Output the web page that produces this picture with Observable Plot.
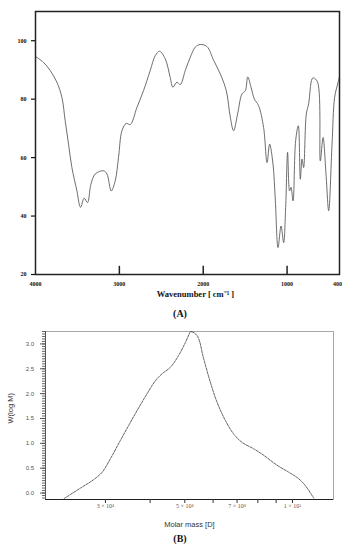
<!DOCTYPE html>
<html>
<head>
<meta charset="utf-8">
<script src="https://cdn.jsdelivr.net/npm/d3@7"></script>
<script src="https://cdn.jsdelivr.net/npm/@observablehq/plot@0.6"></script>
<style>
  html, body { margin: 0; padding: 0; background: #fff; }
  #page { position: relative; width: 350px; height: 550px; overflow: hidden; }
  .blk { position: absolute; left: 0; }
  .tag { position: absolute; font-family: "Liberation Serif", serif; font-weight: bold; font-size: 10px; color: #111; transform: translateX(-50%); }
</style>
</head>
<body>
<div id="page">
  <div id="chartA" class="blk" style="top:0px"></div>
  <div class="tag" style="left:180px; top:308px">(A)</div>
  <div id="chartB" class="blk" style="top:322px"></div>
  <div class="tag" style="left:180px; top:533px">(B)</div>
</div>
<script>
// ---- Chart A: FTIR spectrum ----
const wavenumber = [4000, 3905, 3825, 3745, 3685, 3646, 3606, 3566, 3506, 3463, 3419, 3380, 3339, 3288, 3189, 3148, 3097, 3049, 3010, 2969, 2918, 2870, 2790, 2712, 2632, 2572, 2521, 2453, 2394, 2362, 2313, 2274, 2214, 2155, 2095, 2036, 1955, 1876, 1796, 1725, 1677, 1638, 1590, 1538, 1498, 1469, 1430, 1391, 1340, 1280, 1239, 1208, 1168, 1140, 1108, 1072, 1041, 1017, 994, 970, 953, 929, 898, 866, 842, 822, 803, 771, 743, 703, 684, 636, 604, 571, 536, 504, 464, 433, 397, 377];
const transmittance = [94.6, 92.6, 89.8, 85.8, 80.6, 72.6, 64.6, 56.6, 48.6, 43.0, 46.1, 44.6, 50.9, 54.4, 55.5, 54.4, 48.6, 52.1, 60.1, 69.2, 71.7, 71.3, 77.2, 82.9, 89.8, 94.9, 96.4, 93.8, 87.5, 84.1, 85.8, 85.0, 89.8, 94.3, 97.8, 98.7, 98.0, 93.3, 88.6, 82.9, 73.8, 69.2, 74.9, 81.8, 82.9, 87.6, 84.1, 80.1, 77.8, 70.3, 58.3, 64.6, 57.8, 45.2, 29.2, 36.6, 30.9, 42.9, 61.8, 48.6, 49.8, 45.2, 65.8, 70.9, 52.6, 59.5, 56.6, 74.9, 78.4, 86.9, 87.3, 85.8, 58.9, 66.9, 54.4, 41.8, 64.6, 80.6, 85.2, 87.5];
const yTicksA = [20, 40, 60, 80, 100];
const xTicksA = [4000, 3000, 2000, 1000, 400];
const innerTicksA = [3000, 2000, 1000];
const xDomainA = [4000, 375];
const yDomainA = [20, 110];

// ---- Chart B: molar mass distribution ----
const molarMass = [23000, 25550, 27820, 29380, 30980, 33040, 34850, 36790, 39240, 41390, 43200, 45570, 48070, 50200, 51600, 51900, 54100, 56460, 58930, 61520, 64920, 68460, 72260, 77880, 83060, 90510, 97520, 104000, 108600, 114600];
const wLogM = [-0.11, 0.10, 0.27, 0.42, 0.69, 1.06, 1.36, 1.66, 2.00, 2.26, 2.40, 2.53, 2.77, 3.03, 3.22, 3.25, 3.17, 2.70, 2.23, 1.83, 1.46, 1.19, 1.02, 0.89, 0.76, 0.56, 0.42, 0.29, 0.15, -0.10];
const yMajorB = [0, 0.5, 1.0, 1.5, 2.0, 2.5, 3.0];
const yMinorB = d3.range(-0.1, 3.26, 0.05);
const xTicksB = [30000, 40000, 50000, 60000, 70000, 80000, 90000, 100000];
const xLabelTicksB = [30000, 50000, 70000, 100000];
const xTickLabelsB = ["3 × 10⁴", "5 × 10⁴", "7 × 10⁴", "1 × 10⁵"];
const xDomainB = [20400, 130200];
const yDomainB = [-0.13, 3.25];

const dataA = wavenumber.map((w, i) => ({w, t: transmittance[i]}));
const dataB = molarMass.map((m, i) => ({m, v: wLogM[i]}));
const labelsB = xLabelTicksB.map((m, i) => ({m, label: xTickLabelsB[i]}));

const plotA = Plot.plot({
  width: 350, height: 302,
  marginLeft: 35, marginRight: 11, marginTop: 11, marginBottom: 28,
  x: {type: "linear", domain: xDomainA},
  y: {domain: yDomainA},
  style: {fontFamily: "Liberation Serif", background: "white", color: "#111"},
  marks: [
    Plot.line(dataA, {x: "w", y: "t", stroke: "#5e5e5e", strokeWidth: 0.9, curve: "catmull-rom"}),
    Plot.frame({stroke: "#222", strokeWidth: 1.5}),
    Plot.ruleX(innerTicksA, {y1: 20, y2: 22.8, stroke: "#222", strokeWidth: 1.5}),
    Plot.axisY(yTicksA, {tickSize: 4, tickPadding: 5, tickFormat: d => String(d), fontSize: 6, fontWeight: "bold", label: null, strokeWidth: 1.2}),
    Plot.axisX(xTicksA, {tickSize: 0, tickPadding: 7, tickFormat: d => String(d), fontSize: 6, fontWeight: "bold", label: null}),
    Plot.text(["Wavenumber [ cm⁻¹ ]"], {text: d => d, frameAnchor: "bottom", dx: 8, dy: 22, fontSize: 8.5, fontWeight: "bold", fill: "#111"})
  ]
});
document.getElementById("chartA").appendChild(plotA);

const plotB = Plot.plot({
  width: 350, height: 210,
  marginLeft: 45, marginRight: 17, marginTop: 9, marginBottom: 33,
  x: {type: "log", domain: xDomainB},
  y: {domain: yDomainB},
  style: {fontFamily: "Liberation Sans", background: "white", color: "#444"},
  marks: [
    Plot.frame({stroke: "#a8a8a8", strokeWidth: 1}),
    Plot.ruleX([xDomainB[0]], {stroke: "#555", strokeWidth: 1}),
    Plot.ruleY([yDomainB[0]], {stroke: "#222", strokeWidth: 1.2}),
    Plot.line(dataB, {x: "m", y: "v", stroke: "#3a3a3a", strokeWidth: 0.8, strokeDasharray: "2.5,1.2", curve: "catmull-rom", clip: true}),
    Plot.axisY(yMinorB, {tickSize: 3, tickFormat: () => "", stroke: "#666", label: null}),
    Plot.axisY(yMajorB, {tickSize: 5, tickPadding: 6.5, tickFormat: d => d.toFixed(1), fontSize: 6, fill: "#555", stroke: "#555", label: null}),
    Plot.axisX(xTicksB, {tickSize: 4, tickFormat: () => "", stroke: "#333", label: null}),
    Plot.text(labelsB, {x: "m", text: "label", frameAnchor: "bottom", dy: 8, fontSize: 6, fontFamily: "Liberation Serif", fill: "#555"}),
    Plot.text(["W(log M)"], {text: d => d, frameAnchor: "left", rotate: -90, dx: -35, dy: 8, fontSize: 7.5, fill: "#333"}),
    Plot.text(["Molar mass [D]"], {text: d => d, frameAnchor: "bottom", dy: 27, fontSize: 7.5, fill: "#333"})
  ]
});
document.getElementById("chartB").appendChild(plotB);
</script>
</body>
</html>
